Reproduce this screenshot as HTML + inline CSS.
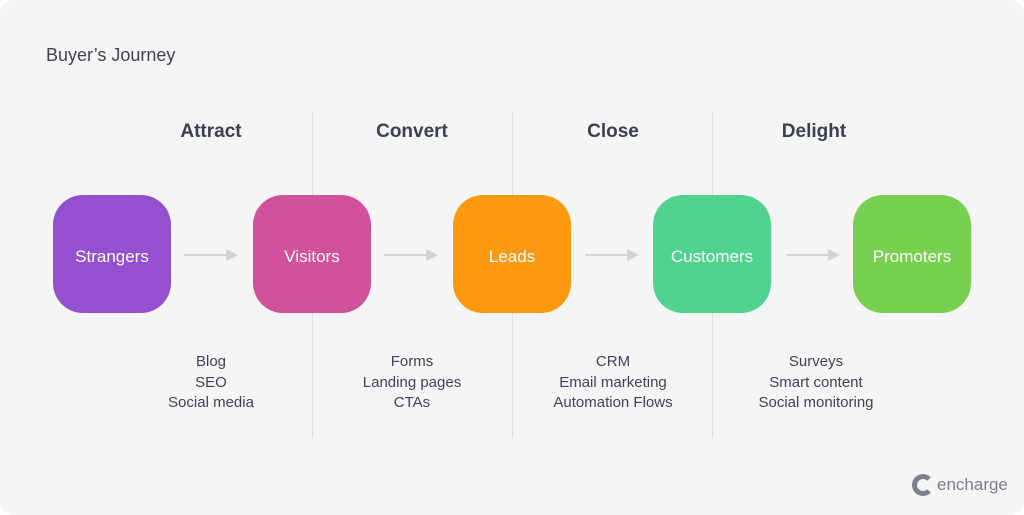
<!DOCTYPE html>
<html><head><style>
body{margin:0;background:#fff}
.c{position:relative;width:1024px;height:515px;background:#f5f5f6;border-radius:14px;overflow:hidden;font-family:"Liberation Sans",sans-serif}
.t{position:absolute;left:46px;top:45px;font-size:18px;color:#3f4454}
.h{position:absolute;top:121px;width:200px;text-align:center;font-size:19px;font-weight:bold;color:#3c4150}
.v{position:absolute;top:113px;width:1px;height:325px;background:#e0e0e3}
.b{position:absolute;top:195px;width:118px;height:118px;border-radius:30px;color:#fff;font-size:17px;display:flex;align-items:center;justify-content:center;box-sizing:border-box;padding-top:5px}
.a{position:absolute;top:254px;width:42px;height:2px;background:#d6d6d9}
.a:after{content:"";position:absolute;right:-12px;top:-5px;border-left:12px solid #d3d3d6;border-top:6px solid transparent;border-bottom:6px solid transparent}
.l{position:absolute;top:352px;width:200px;text-align:center;font-size:15px;line-height:20.5px;color:#3f4454}
</style></head><body><div class="c">
<div class="t">Buyer’s Journey</div>
<div class="h" style="left:111px">Attract</div>
<div class="h" style="left:312px">Convert</div>
<div class="h" style="left:513px">Close</div>
<div class="h" style="left:714px">Delight</div>
<div class="v" style="left:312px"></div><div class="v" style="left:512px"></div><div class="v" style="left:712px"></div>
<div class="b" style="left:53px;background:#9550d0">Strangers</div>
<div class="b" style="left:253px;background:#d2519d">Visitors</div>
<div class="b" style="left:453px;background:#ff9a10">Leads</div>
<div class="b" style="left:653px;background:#4fd38f">Customers</div>
<div class="b" style="left:853px;background:#77d04f">Promoters</div>
<div class="a" style="left:184px"></div><div class="a" style="left:384px"></div><div class="a" style="left:585px"></div><div class="a" style="left:786px"></div>
<div class="l" style="left:111px">Blog<br>SEO<br>Social media</div>
<div class="l" style="left:312px">Forms<br>Landing pages<br>CTAs</div>
<div class="l" style="left:513px">CRM<br>Email marketing<br>Automation Flows</div>
<div class="l" style="left:716px">Surveys<br>Smart content<br>Social monitoring</div>
<div style="position:absolute;left:912px;top:474px;width:22px;height:22px;border-radius:50%;border:5px solid #7c7f8e;box-sizing:border-box;border-right-color:transparent"></div>
<div style="position:absolute;left:937px;top:475px;font-size:17px;color:#7c7f8e">encharge</div>
</div></body></html>
